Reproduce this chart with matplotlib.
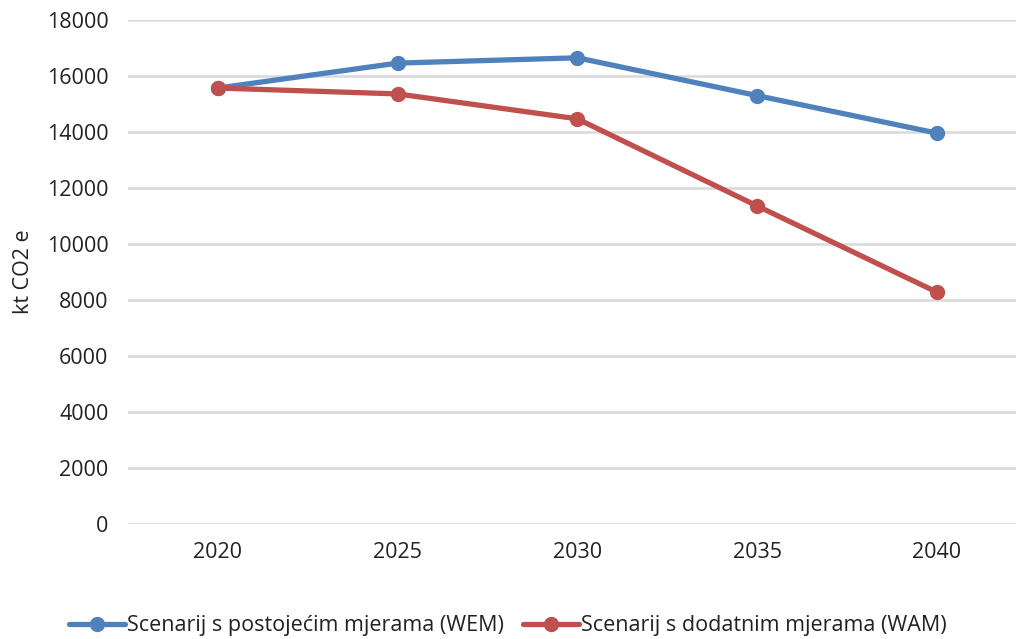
import matplotlib
matplotlib.use("Agg")
import matplotlib.pyplot as plt

years = ["2020", "2025", "2030", "2035", "2040"]
wem = [15570, 16460, 16650, 15300, 13960]
wam = [15570, 15360, 14470, 11360, 8280]
series_labels = ["Scenarij s postojećim mjerama (WEM)", "Scenarij s dodatnim mjerama (WAM)"]
y_ticks = [0, 2000, 4000, 6000, 8000, 10000, 12000, 14000, 16000, 18000]

plt.rcParams['font.family'] = ['Open Sans', 'DejaVu Sans']

W, H = 1016, 639
fig = plt.figure(figsize=(W/100, H/100), dpi=100)
left = 128 / W
bottom = (H - 524) / H
height = 504 / H
width = (W - 128) / W
ax = fig.add_axes([left, bottom, width, height])

x = list(range(len(years)))
c_blue = "#4F81BD"
c_red = "#C0504D"
l1, = ax.plot(x, wem, color=c_blue, lw=3.8, marker='o', ms=10, label=series_labels[0], solid_capstyle='round')
l2, = ax.plot(x, wam, color=c_red, lw=3.8, marker='o', ms=10, label=series_labels[1], solid_capstyle='round')

spacing = 179.75
ax.set_xlim(-0.5, -0.5 + (W - 128) / spacing)
ax.set_ylim(0, 18000)
ax.set_xticks(x)
ax.set_xticklabels(years)
ax.set_yticks(y_ticks)
ax.set_yticklabels([str(v) for v in y_ticks])
fs = 15.5
ax.tick_params(axis='both', length=0, labelsize=fs, colors='#222222')
ax.tick_params(axis='x', pad=13)
ax.tick_params(axis='y', pad=14)
ax.grid(axis='y', color='#D9D9D9', lw=1.8)
ax.set_axisbelow(True)
for s in ax.spines.values():
    s.set_visible(False)

ax.set_ylabel("kt CO2 e", fontsize=fs, color='#222222')
ax.yaxis.set_label_coords(-(128 - 34) / (W - 128), 0.5)

leg = fig.legend(handles=[l1, l2], loc='center', bbox_to_anchor=(0.5, (H - 626) / H),
                 ncol=2, frameon=False, fontsize=fs, handlelength=2.6,
                 handletextpad=0.1, columnspacing=0.9)
for t in leg.get_texts():
    t.set_color('#222222')

fig.savefig("out.png", dpi=100)
